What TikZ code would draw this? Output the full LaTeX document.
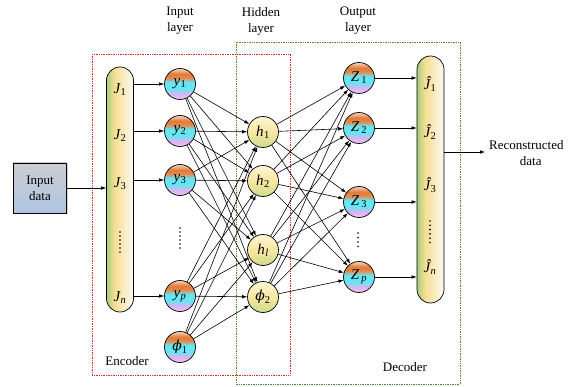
\documentclass[tikz,border=0pt]{standalone}
\usepackage{fontspec}
\setmainfont{Liberation Serif}
\newfontfamily\phifont{DejaVu Serif}
\usetikzlibrary{arrows.meta,shadows}

% colours
\definecolor{ballTop}{HTML}{F6D6BC}
\definecolor{ballOrg}{HTML}{E8874A}
\definecolor{ballOrgD}{HTML}{E07A36}
\definecolor{ballCyan}{HTML}{66E6F2}
\definecolor{ballPink}{HTML}{E6AEF2}
\definecolor{ballLav}{HTML}{E6CCF4}
\definecolor{hidTop}{HTML}{FFF6D2}
\definecolor{hidMid}{HTML}{F6E6A0}
\definecolor{hidBot}{HTML}{CCDA8C}
\definecolor{pillL}{HTML}{A6CE7E}
\definecolor{pillM}{HTML}{F8DE94}
\definecolor{pillR}{HTML}{FBF9F2}
\definecolor{boxTop}{HTML}{CBCDD2}
\definecolor{boxBot}{HTML}{AFC5E4}
\definecolor{encRed}{HTML}{E0262A}
\definecolor{decGreen}{HTML}{4C8A2C}

% fills of the units and the data columns
\pgfdeclareverticalshading{ballshade}{100bp}{color(0bp)=(ballLav); color(25bp)=(ballLav);
  color(33bp)=(ballPink); color(42bp)=(ballCyan); color(53bp)=(ballCyan);
  color(60bp)=(ballOrg); color(66bp)=(ballOrgD); color(75bp)=(ballTop); color(100bp)=(ballTop)}
\pgfdeclareverticalshading{hidshade}{100bp}{color(0bp)=(hidBot); color(25bp)=(hidBot);
  color(48bp)=(hidMid); color(75bp)=(hidTop); color(100bp)=(hidTop)}
\pgfdeclarehorizontalshading{pillshade}{100bp}{color(0bp)=(pillL); color(25bp)=(pillL);
  color(40bp)=(pillM); color(75bp)=(pillR); color(100bp)=(pillR)}

\newcommand{\sub}[2]{{\itshape #1}\kern0.5pt\textsubscript{#2}}
\newcommand{\phisym}{{\phifont\itshape\fontsize{14}{16}\selectfont ϕ}}

\begin{document}
\begin{tikzpicture}[x=1pt,y=-1pt,
  font=\fontsize{13}{16}\selectfont,
  ball/.style={circle,draw,line width=0.7pt,minimum size=31pt,inner sep=0pt,
    shading=ballshade,font=\fontsize{15}{16}\selectfont},
  hid/.style={circle,draw,line width=0.7pt,minimum size=31pt,inner sep=0pt,
    shading=hidshade,font=\fontsize{15}{16}\selectfont},
  pill/.style={draw,line width=0.7pt,minimum width=27pt,rounded corners=13.5pt,
    shading=pillshade,inner sep=0pt},
  inbox/.style={draw,line width=0.6pt,minimum width=53pt,minimum height=50pt,
    top color=boxTop,bottom color=boxBot,align=center,
    drop shadow={shadow xshift=1pt,shadow yshift=-1pt,opacity=0.35}},
  conn/.style={line width=0.6pt,-{Latex[length=5pt,width=3.6pt]}},
  lbl/.style={align=center,inner sep=0pt},
  jlbl/.style={inner sep=0pt,font=\fontsize{15}{16}\selectfont},
  dotmark/.style={fill=black,draw=none},
  encbox/.style={draw=encRed,line width=0.7pt,densely dotted},
  decbox/.style={draw=decGreen,line width=0.7pt,densely dotted}
]
\useasboundingbox (0,0) rectangle (580,387);

% encoder and decoder frames
\draw[decbox] (236,42) rectangle (460,384);
\draw[encbox] (92,54) rectangle (290,375);

% layer titles
\node[lbl] (tin)  at (180,21) {Input\\layer};
\node[lbl] (thid) at (261,21) {Hidden\\layer};
\node[lbl] (tout) at (358,21) {Output\\layer};

% input data and the encoder column
\node[inbox] (in) at (40,188) {Input\\data};
\node[pill,minimum height=245pt] (enc) at (120,189.5) {};
\node[jlbl] (j1) at (120,90)  {\sub{J}{1}};
\node[jlbl] (j2) at (120,136) {\sub{J}{2}};
\node[jlbl] (j3) at (120,184) {\sub{J}{3}};
\node[jlbl] (jn) at (120,298) {\sub{J}{\itshape n}};
\foreach \k in {0,...,5} \fill[dotmark] (120,232+4*\k) circle (0.95);

% input layer
\node[ball] (y1) at (180,84)  {\sub{y}{1}};
\node[ball] (y2) at (180,131) {\sub{y}{2}};
\node[ball] (y3) at (180,180) {\sub{y}{3}};
\node[ball] (yp) at (180,296) {\sub{y}{\itshape p}};
\node[ball] (f1) at (180,347) {\phisym\textsubscript{1}};
\foreach \k in {0,...,5} \fill[dotmark] (180,228+4*\k) circle (0.95);

% hidden layer
\node[hid] (h1) at (263,132) {\sub{h}{1}};
\node[hid] (h2) at (263,181) {\sub{h}{2}};
\node[hid] (hl) at (263,250) {\sub{h}{\itshape l}};
\node[hid] (f2) at (263,297) {\phisym\textsubscript{2}};

% output layer
\node[ball] (z1) at (359,78)  {\sub{Z}{\,1}};
\node[ball] (z2) at (359,128) {\sub{Z}{\,2}};
\node[ball] (z3) at (359,202) {\sub{Z}{\,3}};
\node[ball] (zp) at (359,277) {\sub{Z}{\,\itshape p}};
\foreach \k in {0,...,3} \fill[dotmark] (358,233+4.5*\k) circle (0.95);

% decoder column
\node[pill,minimum height=247pt] (dec) at (430.5,179.5) {};
\node[jlbl] (k1) at (430,84)  {\sub{Ĵ}{1}};
\node[jlbl] (k2) at (430,132) {\sub{Ĵ}{2}};
\node[jlbl] (k3) at (430,185) {\sub{Ĵ}{3}};
\node[jlbl] (kn) at (430,267) {\sub{Ĵ}{\itshape n}};
\foreach \k in {0,...,5} \fill[dotmark] (430,221+4.3*\k) circle (0.95);

% frame captions
\node[lbl] (encl) at (127,361) {Encoder};
\node[lbl] (decl) at (405,367) {Decoder};

% reconstructed output
\coordinate (rec) at (485,152);
\node[lbl,anchor=west] (recl) at (489,153) {Reconstructed\\\hphantom{R}data};

% connectors
\draw[conn] (in.east) -- (in.east -| enc.west);
\foreach \t in {y1,y2,y3,yp} \draw[conn] (enc.east |- \t) -- (\t);
\foreach \s in {y1,y2,y3,yp,f1}
  \foreach \t in {h1,h2,hl,f2}
    \draw[conn] (\s) -- (\t);
\foreach \s in {h1,h2,hl,f2}
  \foreach \t in {z1,z2,z3,zp}
    \draw[conn] (\s) -- (\t);
\foreach \s in {z1,z2,z3,zp} \draw[conn] (\s) -- (\s -| dec.west);
\draw[conn] (dec.east |- rec) -- (rec);
\end{tikzpicture}
\end{document}
